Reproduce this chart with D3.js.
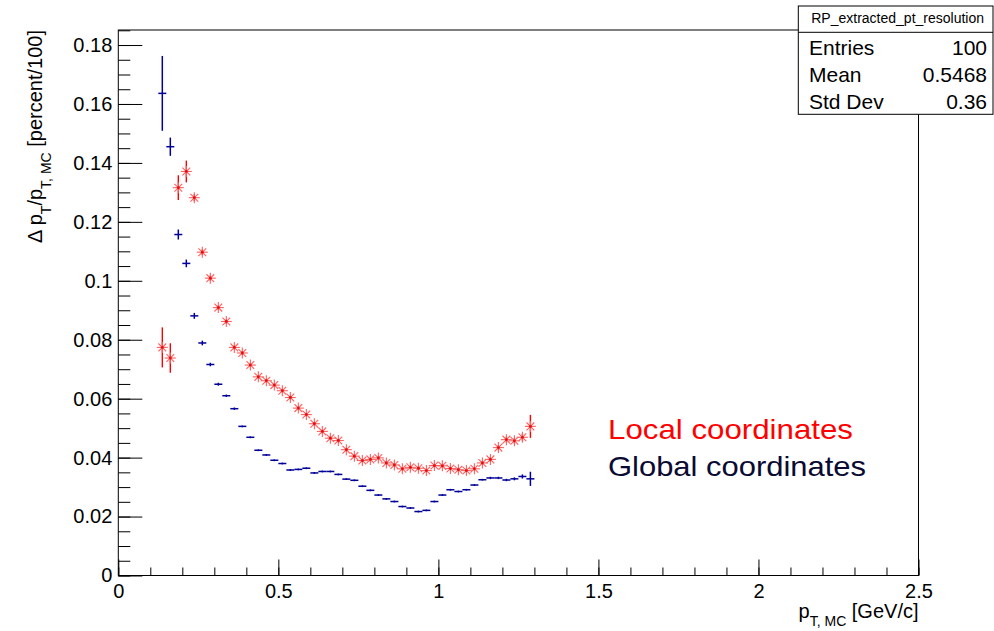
<!DOCTYPE html>
<html>
<head>
<meta charset="utf-8">
<script src="https://cdn.jsdelivr.net/npm/d3@7"></script>
<style>
  html, body { margin: 0; padding: 0; background: #fff; }
  svg { display: block; font-family: 'Liberation Sans', Arial, Helvetica, sans-serif; }
  text { white-space: pre; }
</style>
</head>
<body>
<div class="svg-container"></div>
<script>
// bin centres of the 0.025 wide bins that hold data
const binCenters = [
  0.1375, 0.1625, 0.1875, 0.2125, 0.2375, 0.2625, 0.2875, 0.3125, 0.3375, 0.3625,
  0.3875, 0.4125, 0.4375, 0.4625, 0.4875, 0.5125, 0.5375, 0.5625, 0.5875, 0.6125,
  0.6375, 0.6625, 0.6875, 0.7125, 0.7375, 0.7625, 0.7875, 0.8125, 0.8375, 0.8625,
  0.8875, 0.9125, 0.9375, 0.9625, 0.9875, 1.0125, 1.0375, 1.0625, 1.0875, 1.1125,
  1.1375, 1.1625, 1.1875, 1.2125, 1.2375, 1.2625, 1.2875
]
const binWidth = 0.025

// local coordinates (red)
const localValues = [
  0.0774, 0.0738, 0.1316, 0.1371, 0.1282, 0.1097, 0.1009, 0.0909, 0.0862, 0.0774,
  0.0755, 0.0714, 0.0674, 0.0661, 0.0646, 0.0627, 0.0604, 0.0568, 0.0546, 0.0515,
  0.0489, 0.0466, 0.0458, 0.0427, 0.0405, 0.0390, 0.0394, 0.0399, 0.0382, 0.0375,
  0.0362, 0.0367, 0.0364, 0.0356, 0.0373, 0.0372, 0.0363, 0.0359, 0.0356, 0.0362,
  0.0382, 0.0394, 0.0434, 0.0461, 0.0457, 0.0469, 0.0506
]
const localErrors = [
  0.0068, 0.0050, 0.0042, 0.0037, 0.0012, 0.0010, 0.0009, 0.0008, 0.0008, 0.0007,
  0.0007, 0.0006, 0.0006, 0.0006, 0.0006, 0.0006, 0.0006, 0.0006, 0.0006, 0.0006,
  0.0006, 0.0006, 0.0006, 0.0006, 0.0006, 0.0006, 0.0006, 0.0006, 0.0006, 0.0006,
  0.0006, 0.0006, 0.0006, 0.0006, 0.0006, 0.0006, 0.0006, 0.0006, 0.0006, 0.0007,
  0.0007, 0.0008, 0.0009, 0.0010, 0.0010, 0.0012, 0.0039
]

// global coordinates (blue)
const globalValues = [
  0.1636, 0.1455, 0.1157, 0.1059, 0.0881, 0.0789, 0.0716, 0.0649, 0.0610, 0.0566,
  0.0506, 0.0469, 0.0425, 0.0409, 0.0391, 0.0380, 0.0358, 0.0360, 0.0364, 0.0348,
  0.0353, 0.0353, 0.0343, 0.0327, 0.0323, 0.0303, 0.0289, 0.0273, 0.0260, 0.0251,
  0.0234, 0.0229, 0.0217, 0.0221, 0.0251, 0.0273, 0.0291, 0.0285, 0.0291, 0.0307,
  0.0325, 0.0331, 0.0331, 0.0324, 0.0328, 0.0336, 0.0328
]
const globalErrors = [
  0.0127, 0.0031, 0.0017, 0.0013, 0.0010, 0.0008, 0.0006, 0.0005, 0.0004, 0.0004,
  0.0003, 0.0003, 0.0003, 0.0003, 0.0003, 0.0003, 0.0003, 0.0003, 0.0003, 0.0003,
  0.0003, 0.0003, 0.0003, 0.0003, 0.0003, 0.0003, 0.0003, 0.0003, 0.0003, 0.0003,
  0.0003, 0.0003, 0.0003, 0.0003, 0.0003, 0.0003, 0.0003, 0.0003, 0.0003, 0.0003,
  0.0003, 0.0004, 0.0004, 0.0004, 0.0005, 0.0007, 0.0024
]

const xTickLabels = [0, 0.5, 1, 1.5, 2, 2.5]
const yTickLabels = [0, 0.02, 0.04, 0.06, 0.08, 0.1, 0.12, 0.14, 0.16, 0.18]

const statsTitle = 'RP_extracted_pt_resolution'
const statsNames = ['Entries', 'Mean', 'Std Dev']
const statsValues = ['100', '0.5468', '0.36']

const width = 994
const height = 631
const frame = { left: 118.3, right: 918.5, top: 30, bottom: 575.5 }

const svg = d3.select('.svg-container')
  .append('svg')
  .attr('width', width)
  .attr('height', height)

const xScale = d3.scaleLinear()
  .domain([0, 2.5])
  .range([frame.left, frame.right])

const yScale = d3.scaleLinear()
  .domain([0, 0.1851])
  .range([frame.bottom, frame.top])

const fmt = d => String(+d.toFixed(3))

// minor ticks
svg.append('g')
  .attr('transform', `translate(0, ${frame.bottom})`)
  .call(d3.axisBottom(xScale).tickValues(d3.range(0, 2.5001, 0.1)).tickSize(-8).tickFormat(''))
  .call(g => g.select('.domain').remove())

svg.append('g')
  .attr('transform', `translate(${frame.left}, 0)`)
  .call(d3.axisLeft(yScale).tickValues(d3.range(0, 0.1851, 0.005)).tickSize(-12).tickFormat(''))
  .call(g => g.select('.domain').remove())

// major ticks + labels
svg.append('g')
  .attr('transform', `translate(0, ${frame.bottom})`)
  .call(d3.axisBottom(xScale).tickValues(xTickLabels).tickSize(-16).tickPadding(8).tickFormat(fmt))
  .call(g => g.select('.domain').remove())

svg.append('g')
  .attr('transform', `translate(${frame.left}, 0)`)
  .call(d3.axisLeft(yScale).tickValues(yTickLabels).tickSize(-24).tickPadding(6).tickFormat(fmt))
  .call(g => g.select('.domain').remove())

svg.selectAll('.tick line').attr('stroke', '#000')
svg.selectAll('.tick text')
  .attr('font-size', 20)
  .attr('font-family', null)
  .attr('fill', '#000')

// frame
svg.append('rect')
  .attr('x', frame.left)
  .attr('y', frame.top)
  .attr('width', frame.right - frame.left)
  .attr('height', frame.bottom - frame.top)
  .attr('fill', 'none')
  .attr('stroke', '#000')
  .attr('stroke-width', 1)

// axis titles
const xTitle = svg.append('text')
  .attr('x', frame.right)
  .attr('y', 618)
  .attr('text-anchor', 'end')
  .attr('font-size', 20)
xTitle.append('tspan').text('p')
xTitle.append('tspan').attr('font-size', 14).attr('dy', 8).text('T, MC')
xTitle.append('tspan').attr('dy', -8).text(' [GeV/c]')

const yTitle = svg.append('text')
  .attr('transform', `translate(42, ${frame.top}) rotate(-90)`)
  .attr('text-anchor', 'end')
  .attr('font-size', 20)
yTitle.append('tspan').text('Δ p')
yTitle.append('tspan').attr('font-size', 14).attr('dy', 9).text('T')
yTitle.append('tspan').attr('dy', -9).text('/p')
yTitle.append('tspan').attr('font-size', 14).attr('dy', 9).text('T, MC')
yTitle.append('tspan').attr('dy', -9).text(' [percent/100]')

// data
const globalData = binCenters.map((x, i) => ({ x, y: globalValues[i], e: globalErrors[i] }))
const localData = binCenters.map((x, i) => ({ x, y: localValues[i], e: localErrors[i] }))

const blue = '#000099'
const red = '#ff0000'

const globalG = svg.append('g').attr('stroke', blue).attr('stroke-width', 1.5)
globalG.selectAll('line.h')
  .data(globalData)
  .join('line')
    .attr('class', 'h')
    .attr('x1', d => xScale(d.x - binWidth / 2))
    .attr('x2', d => xScale(d.x + binWidth / 2))
    .attr('y1', d => yScale(d.y))
    .attr('y2', d => yScale(d.y))
globalG.selectAll('line.v')
  .data(globalData)
  .join('line')
    .attr('class', 'v')
    .attr('x1', d => xScale(d.x))
    .attr('x2', d => xScale(d.x))
    .attr('y1', d => yScale(d.y - d.e))
    .attr('y2', d => yScale(d.y + d.e))

const localG = svg.append('g')
localG.selectAll('line.v')
  .data(localData)
  .join('line')
    .attr('class', 'v')
    .attr('stroke', red)
    .attr('stroke-width', 1.4)
    .attr('x1', d => xScale(d.x))
    .attr('x2', d => xScale(d.x))
    .attr('y1', d => yScale(d.y - d.e))
    .attr('y2', d => yScale(d.y + d.e))

const starArms = [0, 45, 90, 135]
const stars = localG.selectAll('g.star')
  .data(localData)
  .join('g')
    .attr('class', 'star')
    .attr('transform', d => `translate(${xScale(d.x)}, ${yScale(d.y)})`)
stars.selectAll('line')
  .data(starArms)
  .join('line')
    .attr('stroke', '#ff6060')
    .attr('stroke-width', 1.1)
    .attr('x1', a => -5.5 * Math.cos(a * Math.PI / 180))
    .attr('y1', a => -5.5 * Math.sin(a * Math.PI / 180))
    .attr('x2', a => 5.5 * Math.cos(a * Math.PI / 180))
    .attr('y2', a => 5.5 * Math.sin(a * Math.PI / 180))
stars.append('circle')
  .attr('r', 1.4)
  .attr('fill', '#e01010')

// legend texts
svg.append('text')
  .attr('x', 608)
  .attr('y', 439)
  .attr('font-size', 28)
  .attr('fill', '#ff0000')
  .attr('textLength', 245)
  .attr('lengthAdjust', 'spacingAndGlyphs')
  .text('Local coordinates')

svg.append('text')
  .attr('x', 608)
  .attr('y', 476)
  .attr('font-size', 28)
  .attr('fill', '#0a0a33')
  .attr('textLength', 258)
  .attr('lengthAdjust', 'spacingAndGlyphs')
  .text('Global coordinates')

// stats box
const box = { left: 798.3, right: 993, top: 6, sep: 32.3, bottom: 114.3 }
const stats = svg.append('g')
stats.append('rect')
  .attr('x', box.left)
  .attr('y', box.top)
  .attr('width', box.right - box.left)
  .attr('height', box.bottom - box.top)
  .attr('fill', '#fff')
  .attr('stroke', '#000')
stats.append('line')
  .attr('x1', box.left)
  .attr('x2', box.right)
  .attr('y1', box.sep)
  .attr('y2', box.sep)
  .attr('stroke', '#000')
stats.append('text')
  .attr('x', (box.left + box.right) / 2 + 2)
  .attr('y', 23)
  .attr('text-anchor', 'middle')
  .attr('font-size', 14)
  .text(statsTitle)
stats.selectAll('text.name')
  .data(statsNames)
  .join('text')
    .attr('class', 'name')
    .attr('x', 809)
    .attr('y', (d, i) => 54.5 + i * 27)
    .attr('font-size', 21)
    .text(d => d)
stats.selectAll('text.value')
  .data(statsValues)
  .join('text')
    .attr('class', 'value')
    .attr('x', 987)
    .attr('y', (d, i) => 54.5 + i * 27)
    .attr('text-anchor', 'end')
    .attr('font-size', 21)
    .text(d => d)
</script>
</body>
</html>
